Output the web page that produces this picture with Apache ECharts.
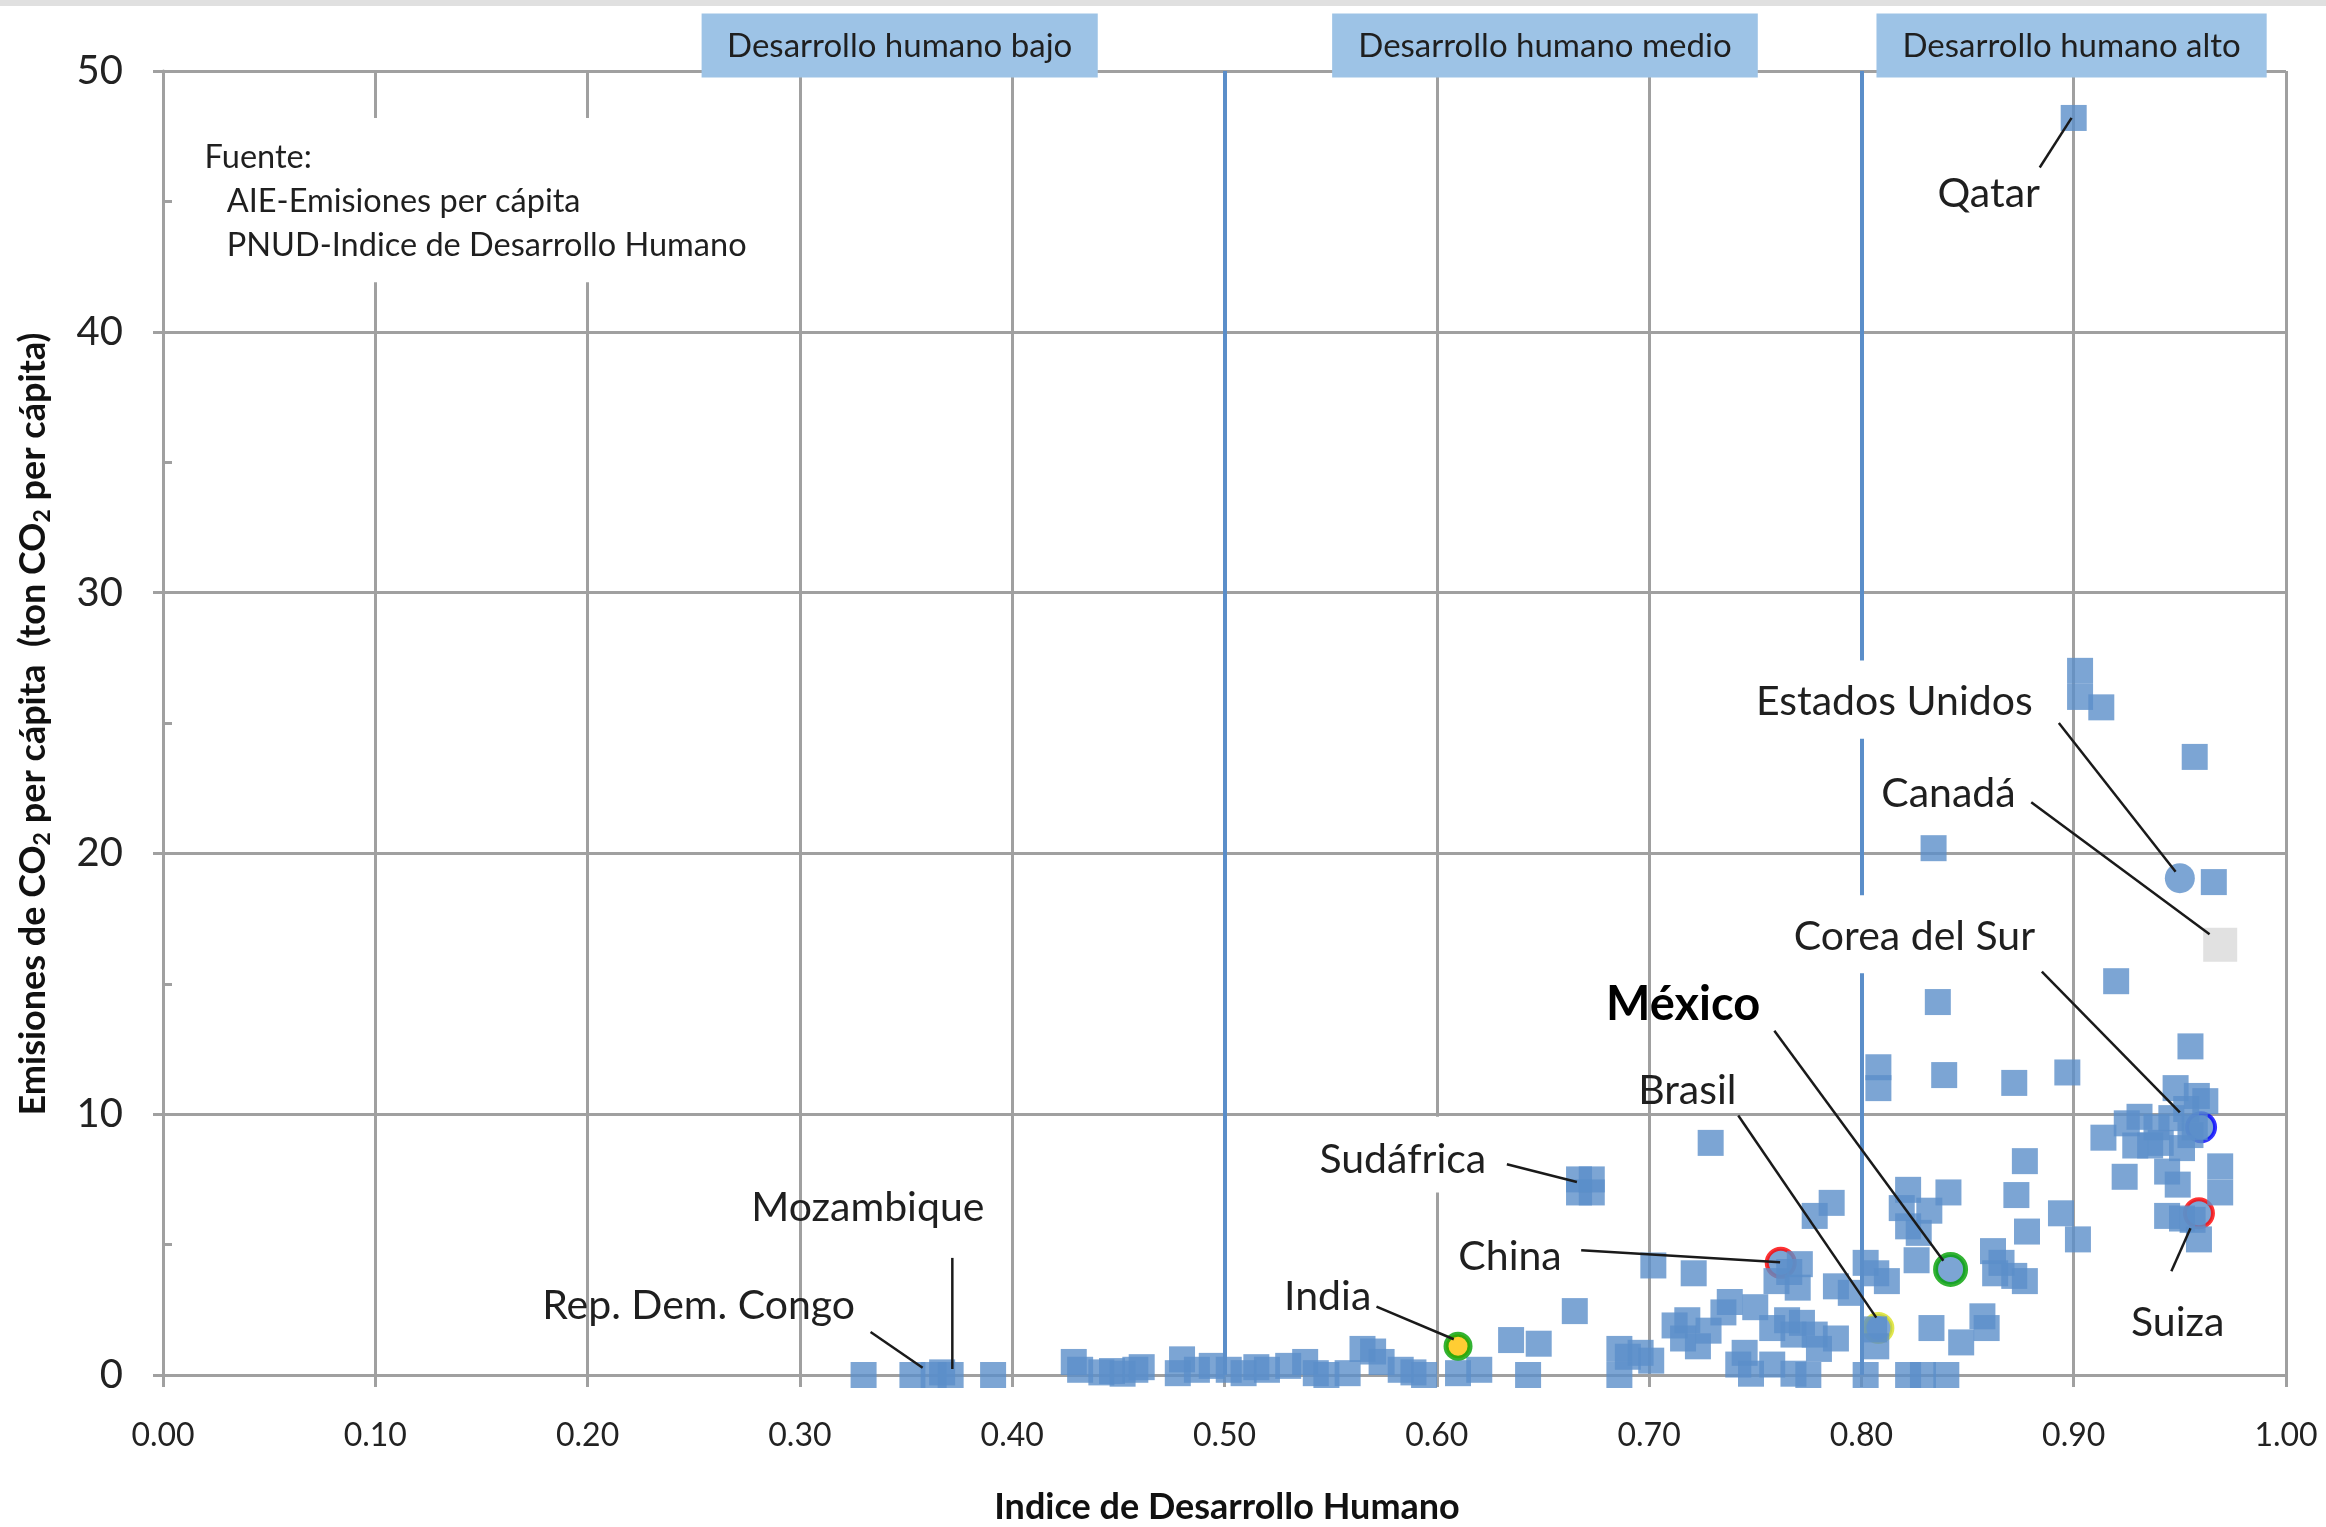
<!DOCTYPE html>
<html><head><meta charset="utf-8">
<script src="https://cdn.jsdelivr.net/npm/echarts@6/dist/echarts.min.js"></script>
<style>html,body{margin:0;padding:0;background:#fff}#c{width:2326px;height:1527px}</style>
</head><body><div id="c"></div>
<script>
// ---- data (HDI, CO2 t per capita) ----
const otherCountries = [
 [0.330,0],[0.353,0],[0.363,0],[0.371,0],[0.367,0.1],[0.391,0],
 [0.429,0.5],[0.432,0.2],[0.442,0.1],[0.447,0.15],[0.452,0.05],[0.458,0.2],[0.461,0.3],
 [0.478,0.07],[0.480,0.6],[0.487,0.2],[0.494,0.35],[0.502,0.2],[0.509,0.07],[0.515,0.3],[0.520,0.2],[0.530,0.35],[0.538,0.5],[0.543,0.07],[0.548,0.0],
 [0.558,0.07],[0.565,1.0],[0.570,0.9],[0.574,0.5],[0.583,0.2],[0.594,0],[0.589,0.1],
 [0.610,0.07],[0.620,0.2],[0.635,1.34],[0.648,1.2],[0.643,0],[0.665,2.45],
 [0.667,7.5],[0.673,7.0],[0.667,7.0],[0.673,7.5],
 [0.686,1.0],[0.686,0],[0.696,0.85],[0.701,0.55],[0.690,0.7],
 [0.702,4.2],[0.721,3.9],[0.718,2.1],[0.728,1.7],[0.716,1.4],[0.723,1.1],[0.712,1.9],
 [0.729,8.9],[0.738,2.8],[0.750,2.6],[0.735,2.4],
 [0.745,0.85],[0.748,0.05],[0.758,0.4],[0.768,0.05],[0.775,0.0],[0.742,0.4],
 [0.765,2.1],[0.768,1.55],[0.758,1.8],[0.778,1.55],[0.788,1.4],[0.780,1.0],[0.772,2.0],
 [0.760,3.6],[0.770,3.35],[0.771,4.25],[0.766,3.95],[0.788,3.4],[0.795,3.15],
 [0.778,6.1],[0.786,6.6],[0.802,4.3],[0.807,3.9],[0.812,3.6],[0.807,1.1],[0.806,1.75],[0.802,0],
 [0.808,11.8],[0.808,11.0],
 [0.822,7.1],[0.841,7.0],[0.819,6.4],[0.832,6.3],[0.822,5.7],[0.827,5.45],[0.826,4.4],
 [0.833,1.8],[0.847,1.25],[0.857,2.25],[0.859,1.8],[0.822,0],[0.829,0],[0.840,0],
 [0.836,14.3],[0.839,11.5],[0.872,11.2],[0.897,11.6],
 [0.877,8.2],[0.873,6.9],[0.894,6.2],[0.902,5.2],[0.878,5.5],
 [0.862,4.75],[0.863,3.9],[0.872,3.8],[0.877,3.6],[0.866,4.3],
 [0.914,9.1],[0.925,9.65],[0.931,9.9],[0.939,9.5],[0.929,8.8],[0.941,8.9],[0.951,8.7],[0.946,9.85],[0.936,8.8],
 [0.948,11.0],[0.958,10.7],[0.953,10.2],[0.962,10.5],[0.955,9.2],[0.957,9.5],
 [0.924,7.6],[0.944,7.8],[0.949,7.3],[0.969,8.0],[0.969,7.0],
 [0.944,6.1],[0.951,6.0],[0.956,5.95],[0.959,5.2],
 [0.920,15.1],[0.955,12.6],
 [0.903,27.0],[0.903,26.0],[0.913,25.6],[0.957,23.7],[0.834,20.2],[0.966,18.9],
 [0.900,48.2]
];
// highlighted countries drawn under the cloud (partially hidden rings)
const ringNames = ['Corea del Sur','Brasil','China','Suiza','Otro'];
const ringHdi   = [0.960, 0.808, 0.762, 0.959, 0.434];
const ringCo2   = [9.5,   1.8,   4.3,   6.2,   -0.1];
// highlighted countries drawn on top
const topNames = ['Estados Unidos','Canadá','México','India'];
const topHdi   = [0.950, 0.969, 0.842, 0.610];
const topCo2   = [19.05, 16.5,  4.05,  1.1];

const xTickValues = [0,0.1,0.2,0.3,0.4,0.5,0.6,0.7,0.8,0.9,1.0];
const yTickValues = [0,10,20,30,40,50];
const thresholds = [0.5, 0.8];
const bandLabels = ['Desarrollo humano bajo','Desarrollo humano medio','Desarrollo humano alto'];

// annotation layout (data coordinates)
const labelTexts = ['Qatar','Estados Unidos','Canadá','Corea del Sur','México','Brasil','Sudáfrica','China','India','Mozambique','Rep. Dem. Congo','Suiza'];
const labelAt = [[0.860,45.3],[0.8155,25.8],[0.841,22.3],[0.825,16.8],[0.716,14.2],[0.718,10.9],[0.584,8.25],[0.6345,4.55],[0.5486,3.0],[0.332,6.43],[0.2523,2.67],[0.949,1.99]];
const leaderFrom = [[0.884,46.3],[0.893,25.0],[0.880,21.96],[0.885,15.47],[0.759,13.2],[0.742,9.95],[0.633,8.08],[0.668,4.78],[0.5716,2.62],[0.3718,4.49],[0.3333,1.65],[0.946,3.98]];
const leaderTo = [[0.899,48.2],[0.948,19.3],[0.964,16.9],[0.950,10.07],[0.8386,4.38],[0.807,2.2],[0.666,7.4],[0.7617,4.32],[0.608,1.37],[0.3718,0.23],[0.3578,0.28],[0.955,5.63]];
const whiteBoxes = [[0.014,48.2,0.28,41.9],[0.772,27.4,0.888,24.4],[0.785,18.4,0.888,15.4],[0.54,9.9,0.63,7.0]];
const bandBoxes = [[0.2537,0.4403],[0.5507,0.7512],[0.8071,0.9909]];

const BLUE = '#5b8ec9';
const GRID = '#a0a0a0';
const FONT = 'Lato, "Open Sans", sans-serif';

const chart = echarts.init(document.getElementById('c'));
const ringStyles = [
  {color: BLUE, borderColor:'#0000ff', borderWidth:4},
  {color: BLUE, borderColor:'#d9e021', borderWidth:4},
  {color: BLUE, borderColor:'#ff0000', borderWidth:4},
  {color: BLUE, borderColor:'#ff0000', borderWidth:4},
  {color: '#00a000', borderColor:'#00a000', borderWidth:2}
];
const topStyles = [
  {symbol:'circle', size:30, itemStyle:{color:BLUE}},
  {symbol:'rect', size:34, itemStyle:{color:'#d9d9d9'}},
  {symbol:'circle', size:30, itemStyle:{color:BLUE, borderColor:'#00a000', borderWidth:5}},
  {symbol:'circle', size:24, itemStyle:{color:'#ffc000', borderColor:'#00a000', borderWidth:5}}
];

chart.setOption({
  animation:false,
  backgroundColor:'#fff',
  grid:{left:163, right:40, top:71, bottom:152},
  xAxis:{type:'value', min:0, max:1, interval:0.1,
    axisLine:{show:true, onZero:false, lineStyle:{color:GRID, width:3}},
    axisTick:{show:true, length:12, lineStyle:{color:GRID, width:3}},
    axisLabel:{margin:45, color:'#222', fontFamily:FONT, fontSize:32,
      formatter:v=> (xTickValues.some(t=>Math.abs(t-v)<1e-9) ? v.toFixed(2) : '')},
    splitLine:{show:true, lineStyle:{color:GRID, width:3}}
  },
  yAxis:[{type:'value', min:0, max:50, interval:10,
    axisLine:{show:true, lineStyle:{color:GRID, width:3}},
    axisTick:{show:true, length:10, lineStyle:{color:GRID, width:3}},
    axisLabel:{margin:40, color:'#222', fontFamily:FONT, fontSize:40,
      formatter:v=> (yTickValues.includes(v) ? String(v) : '')},
    splitLine:{show:true, lineStyle:{color:GRID, width:3}}
  },{type:'value', min:0, max:50, interval:5, position:'left',
    axisLine:{show:false}, axisLabel:{show:false}, splitLine:{show:false},
    axisTick:{show:true, inside:true, length:9, lineStyle:{color:GRID, width:3}}
  }],
  series:[
    {type:'line', data:[], z:1, markLine:{silent:true, symbol:'none', animation:false,
      label:{show:false}, lineStyle:{color:BLUE, width:4, type:'solid'},
      data: thresholds.map(t=>({xAxis:t}))}},
    {type:'scatter', name:'rings', symbol:'circle',
      symbolSize:(v,p)=> p.dataIndex===4 ? 18 : 28,
      data: ringNames.map((n,i)=>({name:n, value:[ringHdi[i], ringCo2[i]], itemStyle:ringStyles[i]}))},
    {type:'scatter', name:'paises', symbol:'rect', symbolSize:26, itemStyle:{color:BLUE},
      data: otherCountries},
    {type:'scatter', name:'destacados',
      data: topNames.map((n,i)=>({name:n, value:[topHdi[i], topCo2[i]], symbol:topStyles[i].symbol,
        symbolSize:topStyles[i].size, itemStyle:topStyles[i].itemStyle}))}
  ]
});

function px(p){ return chart.convertToPixel({gridIndex:0}, p); }
const g = [];
g.push({type:'rect', shape:{x:0,y:0,width:2326,height:6}, style:{fill:'#e0e0e0'}, z:10});
whiteBoxes.forEach(b=>{
  const a = px([b[0],b[1]]), c = px([b[2],b[3]]);
  g.push({type:'rect', shape:{x:a[0], y:a[1], width:c[0]-a[0], height:c[1]-a[1]}, style:{fill:'#fff'}, z:5});
});
bandBoxes.forEach((b,i)=>{
  const a = px([b[0],52.2]), c = px([b[1],49.75]);
  g.push({type:'rect', shape:{x:a[0], y:a[1], width:c[0]-a[0], height:c[1]-a[1]}, style:{fill:'#9dc3e6'}, z:10});
  g.push({type:'text', x:(a[0]+c[0])/2, y:(a[1]+c[1])/2+1, z:11,
    style:{text:bandLabels[i], fill:'#1f1f1f', font:'33px '+FONT, align:'center', verticalAlign:'middle'}});
});
// source note
const src = [['Fuente:',0.0196,46.7],['AIE-Emisiones per cápita',0.030,45.0],['PNUD-Indice de Desarrollo Humano',0.030,43.3]];
src.forEach(s=>{
  const p = px([s[1],s[2]]);
  g.push({type:'text', x:p[0], y:p[1], z:11, style:{text:s[0], fill:'#1f1f1f', font:'32.5px '+FONT, align:'left', verticalAlign:'middle'}});
});
leaderFrom.forEach((f,i)=>{
  const a = px(f), b = px(leaderTo[i]);
  g.push({type:'line', shape:{x1:a[0],y1:a[1],x2:b[0],y2:b[1]}, style:{stroke:'#1a1a1a', lineWidth:2.5}, z:12});
});
labelTexts.forEach((t,i)=>{
  const p = px(labelAt[i]);
  const bold = t==='México';
  g.push({type:'text', x:p[0], y:p[1], z:12, style:{text:t, fill:bold?'#000':'#1f1f1f',
    font:(bold?'bold 47px ':'41px ')+FONT, align:'center', verticalAlign:'middle'}});
});
// axis titles
g.push({type:'text', x:1227, y:1507, z:12, style:{text:'Indice de Desarrollo Humano', fill:'#111',
  font:'bold 36px '+FONT, align:'center', verticalAlign:'middle'}});
g.push({type:'text', x:33, y:724, rotation:Math.PI/2, z:12, style:{
  text:'{b|Emisiones de CO}{s|2}{b| per cápita  (ton CO}{s|2}{b| per cápita)}',
  align:'center', verticalAlign:'middle',
  rich:{b:{fontFamily:FONT, fontWeight:'bold', fontSize:36, fill:'#111', lineHeight:42, verticalAlign:'middle'},
        s:{fontFamily:FONT, fontWeight:'bold', fontSize:23, fill:'#111', lineHeight:42, verticalAlign:'bottom'}}}});
chart.setOption({graphic:{elements:g}});
</script></body></html>
